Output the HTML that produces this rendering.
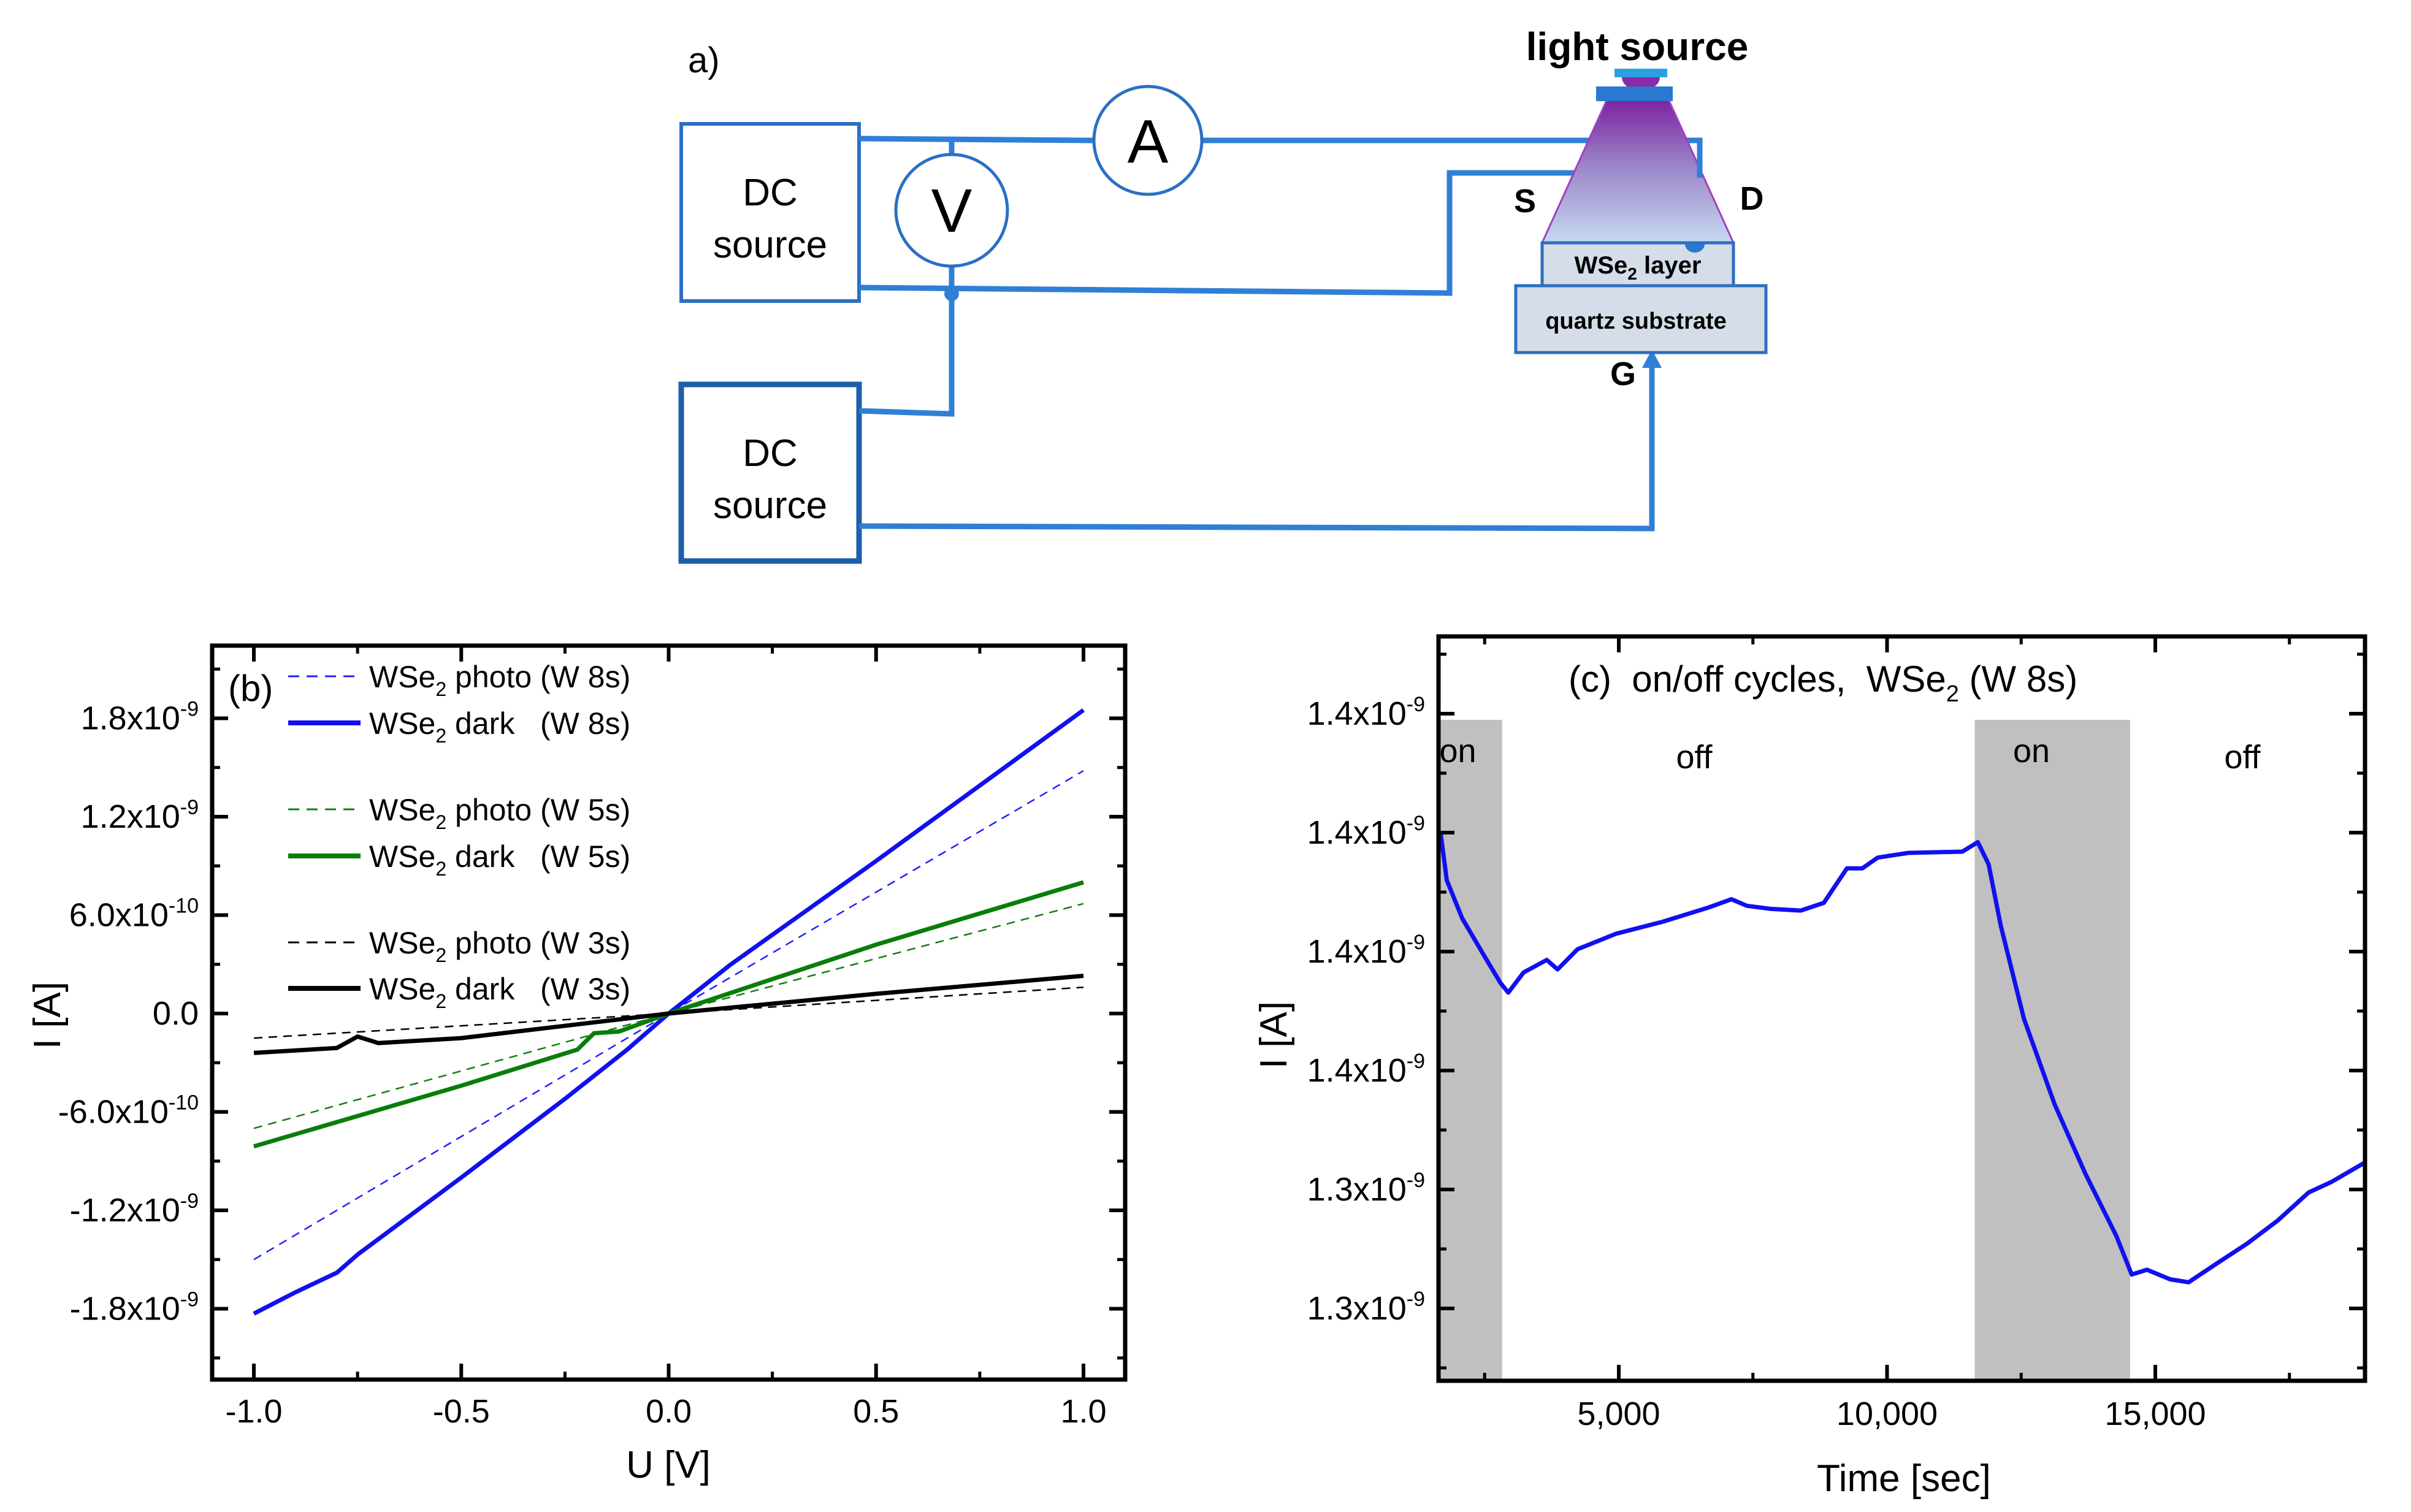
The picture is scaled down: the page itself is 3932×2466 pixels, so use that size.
<!DOCTYPE html>
<html><head><meta charset="utf-8"><style>
html,body{margin:0;padding:0;background:#fff;}
svg{display:block;}
.t{font-family:"Liberation Sans Narrow","Liberation Sans",sans-serif;fill:#000;}
.d{font-family:"Liberation Sans",sans-serif;fill:#000;}
</style></head><body>
<svg id="fig" width="3932" height="2466" viewBox="0 0 3932 2466" xmlns="http://www.w3.org/2000/svg">
<defs>
<linearGradient id="beam" x1="0" y1="0" x2="0" y2="1">
<stop offset="0" stop-color="#7b22a0"/><stop offset="0.45" stop-color="#9a82c8"/><stop offset="1" stop-color="#c6daf0"/>
</linearGradient>
</defs>
<g stroke="#2f7fd6" fill="none" stroke-width="9">
<text class="d" x="1122" y="118" font-size="58" stroke="none">a)</text>
<rect x="1111" y="202" width="290" height="289" stroke="#2b6fc2" stroke-width="6" fill="#fff"/>
<text class="d" x="1256" y="335" font-size="62" text-anchor="middle" stroke="none">DC</text>
<text class="d" x="1256" y="420" font-size="62" text-anchor="middle" stroke="none">source</text>
<rect x="1111" y="627" width="290" height="288" stroke="#1d5fa8" stroke-width="9" fill="#fff"/>
<text class="d" x="1256" y="760" font-size="62" text-anchor="middle" stroke="none">DC</text>
<text class="d" x="1256" y="845" font-size="62" text-anchor="middle" stroke="none">source</text>
<path d="M1401 226 L1782 229 M1962 229 L2772 229 L2772 396"/>
<path d="M1401 469 L2364 478 L2364 282 L2570 282"/>
<path d="M1552 226 L1552 252 M1552 434 L1552 675 L1401 670"/>
<circle cx="1552" cy="479" r="12" fill="#2f7fd6" stroke="none"/>
<path d="M1401 858 L2694 862 L2694 590"/>
<path d="M2678 600 L2694 570 L2710 600 Z" fill="#2f7fd6" stroke="none"/>
<circle cx="1552" cy="343" r="91" stroke="#2b6fc2" stroke-width="5" fill="#fff"/>
<text class="d" x="1552" y="378" font-size="100" text-anchor="middle" stroke="none">V</text>
<circle cx="1872" cy="229" r="88" stroke="#2b6fc2" stroke-width="5" fill="#fff"/>
<text class="d" x="1872" y="265" font-size="100" text-anchor="middle" stroke="none">A</text>
<rect x="2633" y="112" width="86" height="14" fill="#2aa0e0" stroke="none"/>
<path d="M2645 126 A31 22 0 0 0 2707 126 Z" fill="#8a2aa8" stroke="none"/>
<path d="M2621 162 L2721 162 L2827 396 L2515 396 Z" fill="url(#beam)" stroke="#a040c0" stroke-width="3"/>
<path d="M2772 229 L2772 290" stroke="#2f7fd6" stroke-width="9"/>
<rect x="2603" y="141" width="125" height="24" fill="#2a78d0" stroke="none"/>
<rect x="2515" y="396" width="312" height="70" fill="#d5dde8" stroke="#2b6fc2" stroke-width="5"/>
<path d="M2748 398 A16 14 0 0 0 2780 398 Z" fill="#2a78d0" stroke="none"/>
<text class="d" x="2671" y="446" font-size="40" font-weight="bold" text-anchor="middle" stroke="none">WSe<tspan font-size="28" dy="10">2</tspan><tspan dy="-10"> layer</tspan></text>
<rect x="2472" y="466" width="408" height="109" fill="#d5dde8" stroke="#2b6fc2" stroke-width="5"/>
<text class="d" x="2668" y="536" font-size="38" font-weight="bold" text-anchor="middle" stroke="none">quartz substrate</text>
<text class="d" x="2670" y="98" font-size="64" font-weight="bold" text-anchor="middle" stroke="none">light source</text>
<text class="d" x="2487" y="346" font-size="54" font-weight="bold" text-anchor="middle" stroke="none">S</text>
<text class="d" x="2857" y="342" font-size="54" font-weight="bold" text-anchor="middle" stroke="none">D</text>
<text class="d" x="2647" y="628" font-size="54" font-weight="bold" text-anchor="middle" stroke="none">G</text>
</g>
<g id="pb"></g>
<g id="pc"></g>
</svg>
<script>
// ---- Panel b data ----
const bXTicks = [-1.0, -0.5, 0.0, 0.5, 1.0];
const bXTickLabels = ["-1.0", "-0.5", "0.0", "0.5", "1.0"];
const bYTicks = [-1.8, -1.2, -0.6, 0, 0.6, 1.2, 1.8];
const bYTickMant = ["-1.8x10", "-1.2x10", "-6.0x10", "0.0", "6.0x10", "1.2x10", "1.8x10"];
const bYTickExp = ["-9", "-9", "-10", "", "-10", "-9", "-9"];
const blueDarkX = [-1, -0.9, -0.8, -0.75, -0.5, -0.25, -0.1, 0, 0.15, 0.5, 1];
const blueDarkY = [-1.83, -1.70, -1.58, -1.47, -1.0, -0.52, -0.22, 0, 0.30, 0.93, 1.85];
const bluePhotoX = [-1, 0, 1];
const bluePhotoY = [-1.50, 0, 1.48];
const greenDarkX = [-1, -0.5, -0.22, -0.18, -0.12, 0, 0.5, 1];
const greenDarkY = [-0.81, -0.44, -0.22, -0.12, -0.11, 0, 0.42, 0.80];
const greenPhotoX = [-1, 0, 1];
const greenPhotoY = [-0.70, 0, 0.67];
const blackDarkX = [-1, -0.8, -0.75, -0.7, -0.5, 0, 0.5, 1];
const blackDarkY = [-0.24, -0.21, -0.14, -0.18, -0.15, 0, 0.12, 0.23];
const blackPhotoX = [-1, 0, 1];
const blackPhotoY = [-0.15, 0, 0.16];
// ---- Panel c data ----
const cXTicks = [5000, 10000, 15000];
const cXTickLabels = ["5,000", "10,000", "15,000"];
const cYTicks = [1.40, 1.38, 1.36, 1.34, 1.32, 1.30];
const cYTickMant = ["1.4x10", "1.4x10", "1.4x10", "1.4x10", "1.3x10", "1.3x10"];
const onPeriods = [[1640, 2826], [11634, 14531]];
const periodLabels = ["on", "off", "on", "off"];
const periodLabelT = [2000, 6406, 12692, 16623];
const cTime = [1679,1794,2081,2511,2798,2941,3228,3658,3859,4232,4949,5810,6670,7101,7388,7818,8392,8822,9252,9539,9826,10400,11404,11691,11892,12121,12552,13125,13699,14273,14560,14846,15277,15621,16137,16711,17285,17858,18289,18900];
const cCurrent = [1.380,1.372,1.3656,1.359,1.3547,1.3531,1.3565,1.3586,1.357,1.3604,1.363,1.365,1.3674,1.3688,1.3677,1.3672,1.3669,1.3682,1.374,1.374,1.3758,1.3766,1.3768,1.3784,1.3747,1.3643,1.3487,1.3343,1.3226,1.3122,1.3057,1.3065,1.3049,1.3044,1.3075,1.3109,1.3148,1.3195,1.3213,1.3245];

const NS = "http://www.w3.org/2000/svg";
function mk(parent, tag, attrs) {
  const e = document.createElementNS(NS, tag);
  for (const k in attrs) e.setAttribute(k, attrs[k]);
  parent.appendChild(e);
  return e;
}
const pb = document.getElementById('pb');
const bL = 346, bR = 1835, bT = 1053, bB = 2250;
const bx = v => 1090.5 + v * 676.5;
const by = v => 1653 - v * 267.5;
function poly(parent, xs, ys, fx, fy, color, w, dash, name) {
  const pts = xs.map((x, i) => fx(x).toFixed(1) + "," + fy(ys[i]).toFixed(1)).join(" ");
  const p = mk(parent, 'polyline', {points: pts, fill: 'none', stroke: color, 'stroke-width': w, 'stroke-linejoin': 'round'});
  if (dash) p.setAttribute('stroke-dasharray', dash);
  
  
  return p;
}
poly(pb, bluePhotoX, bluePhotoY, bx, by, '#2020ff', 2.5, '14,10', 'blue-photo-line');
poly(pb, greenPhotoX, greenPhotoY, bx, by, '#108010', 2.5, '14,10', 'green-photo-line');
poly(pb, blackPhotoX, blackPhotoY, bx, by, '#000', 2.5, '14,10', 'black-photo-line');
poly(pb, blueDarkX, blueDarkY, bx, by, '#1010f0', 7, '', 'blue-dark-line');
poly(pb, greenDarkX, greenDarkY, bx, by, '#0a7d0a', 7, '', 'green-dark-line');
poly(pb, blackDarkX, blackDarkY, bx, by, '#000', 7, '', 'black-dark-line');
const bFrame = mk(pb, 'rect', {x: bL, y: bT, width: bR - bL, height: bB - bT, fill: 'none', stroke: '#000', 'stroke-width': 7});


bXTicks.forEach((v, i) => {
  const x = bx(v);
  mk(pb, 'line', {x1: x, y1: bB, x2: x, y2: bB - 26, stroke: '#000', 'stroke-width': 6});
  mk(pb, 'line', {x1: x, y1: bT, x2: x, y2: bT + 26, stroke: '#000', 'stroke-width': 6});
  if (i < bXTicks.length - 1) {
    const xm = bx(v + 0.25);
    mk(pb, 'line', {x1: xm, y1: bB, x2: xm, y2: bB - 13, stroke: '#000', 'stroke-width': 5});
    mk(pb, 'line', {x1: xm, y1: bT, x2: xm, y2: bT + 13, stroke: '#000', 'stroke-width': 5});
  }
  const t = mk(pb, 'text', {x: x, y: bB + 70, 'font-size': 54, 'text-anchor': 'middle', class: 't'});
  t.textContent = bXTickLabels[i];
  
  
});
bYTicks.forEach((v, i) => {
  const y = by(v);
  mk(pb, 'line', {x1: bL, y1: y, x2: bL + 26, y2: y, stroke: '#000', 'stroke-width': 6});
  mk(pb, 'line', {x1: bR, y1: y, x2: bR - 26, y2: y, stroke: '#000', 'stroke-width': 6});
  const ym = by(v + 0.3);
  mk(pb, 'line', {x1: bL, y1: ym, x2: bL + 13, y2: ym, stroke: '#000', 'stroke-width': 5});
  mk(pb, 'line', {x1: bR, y1: ym, x2: bR - 13, y2: ym, stroke: '#000', 'stroke-width': 5});
  const t = mk(pb, 'text', {x: bL - 22, y: y + 18, 'font-size': 54, 'text-anchor': 'end', class: 't'});
  
  
  if (bYTickExp[i]) {
    const a = mk(t, 'tspan', {}); a.textContent = bYTickMant[i];
    const b = mk(t, 'tspan', {dy: -22, 'font-size': 34}); b.textContent = bYTickExp[i];
  } else t.textContent = bYTickMant[i];
});
{
  const ym = by(-2.1);
  mk(pb, 'line', {x1: bL, y1: ym, x2: bL + 13, y2: ym, stroke: '#000', 'stroke-width': 5});
  mk(pb, 'line', {x1: bR, y1: ym, x2: bR - 13, y2: ym, stroke: '#000', 'stroke-width': 5});
  const xt = mk(pb, 'text', {x: 1090, y: 2410, 'font-size': 62, 'text-anchor': 'middle', class: 't'});
  xt.textContent = 'U [V]';
  
  
  const yt = mk(pb, 'text', {x: 0, y: 0, 'font-size': 62, 'text-anchor': 'middle', class: 't', transform: 'translate(98,1656) rotate(-90)'});
  yt.textContent = 'I [A]';
  
  
  const pl = mk(pb, 'text', {x: 372, y: 1143, 'font-size': 60, class: 't'});
  pl.textContent = '(b)';
  
  
}
const legY = [1103, 1179, 1320, 1396, 1537, 1612];
const legColor = ['#2020ff', '#1010f0', '#108010', '#0a7d0a', '#000', '#000'];
const legDash = [true, false, true, false, true, false];
const legKind = ['photo (W 8s)', 'dark   (W 8s)', 'photo (W 5s)', 'dark   (W 5s)', 'photo (W 3s)', 'dark   (W 3s)'];
legY.forEach((y, i) => {
  const g = mk(pb, 'g', {});
  
  
  const l = mk(g, 'line', {x1: 470, y1: y, x2: 588, y2: y, stroke: legColor[i], 'stroke-width': legDash[i] ? 3 : 8});
  if (legDash[i]) l.setAttribute('stroke-dasharray', '18,12');
  const t = mk(g, 'text', {x: 602, y: y + 18, 'font-size': 50, class: 't'});
  const a = mk(t, 'tspan', {}); a.textContent = 'WSe';
  const b = mk(t, 'tspan', {dy: 14, 'font-size': 32}); b.textContent = '2';
  const c = mk(t, 'tspan', {dy: -14}); c.textContent = ' ' + legKind[i];
  t.style.whiteSpace = 'pre';
});
// Panel c
const pc = document.getElementById('pc');
const cL = 2346, cR = 3857, cT = 1038, cB = 2252;
const cx = v => 2640 + (v - 5000) / 5000 * 437.5;
const cy = v => 1164 + (1.40 - v) / 0.02 * 194;
onPeriods.forEach(p => {
  const r = mk(pc, 'rect', {x: cx(p[0]), y: 1174, width: cx(p[1]) - cx(p[0]), height: cB - 1174, fill: '#c0c0c0'});
  
  
});
periodLabels.forEach((s, i) => {
  const t = mk(pc, 'text', {x: cx(periodLabelT[i]), y: 1243 + (i % 2 === 1 ? 10 : 0), 'font-size': 54, 'text-anchor': 'middle', class: 't'});
  t.textContent = s;
  
  
});
poly(pc, cTime, cCurrent, cx, cy, '#1010f0', 7, '', 'current-trace');
const cFrame = mk(pc, 'rect', {x: cL, y: cT, width: cR - cL, height: cB - cT, fill: 'none', stroke: '#000', 'stroke-width': 7});


cXTicks.forEach((v, i) => {
  const x = cx(v);
  mk(pc, 'line', {x1: x, y1: cB, x2: x, y2: cB - 26, stroke: '#000', 'stroke-width': 6});
  mk(pc, 'line', {x1: x, y1: cT, x2: x, y2: cT + 26, stroke: '#000', 'stroke-width': 6});
  const t = mk(pc, 'text', {x: x, y: cB + 72, 'font-size': 54, 'text-anchor': 'middle', class: 't'});
  t.textContent = cXTickLabels[i];
  
  
});
[2500, 7500, 12500, 17500].forEach(v => {
  const x = cx(v);
  mk(pc, 'line', {x1: x, y1: cB, x2: x, y2: cB - 13, stroke: '#000', 'stroke-width': 5});
  mk(pc, 'line', {x1: x, y1: cT, x2: x, y2: cT + 13, stroke: '#000', 'stroke-width': 5});
});
cYTicks.forEach((v, i) => {
  const y = cy(v);
  mk(pc, 'line', {x1: cL, y1: y, x2: cL + 26, y2: y, stroke: '#000', 'stroke-width': 6});
  mk(pc, 'line', {x1: cR, y1: y, x2: cR - 26, y2: y, stroke: '#000', 'stroke-width': 6});
  const ym = cy(v + 0.01);
  mk(pc, 'line', {x1: cL, y1: ym, x2: cL + 13, y2: ym, stroke: '#000', 'stroke-width': 5});
  mk(pc, 'line', {x1: cR, y1: ym, x2: cR - 13, y2: ym, stroke: '#000', 'stroke-width': 5});
  const t = mk(pc, 'text', {x: cL - 22, y: y + 18, 'font-size': 54, 'text-anchor': 'end', class: 't'});
  
  
  const a = mk(t, 'tspan', {}); a.textContent = cYTickMant[i];
  const b = mk(t, 'tspan', {dy: -22, 'font-size': 34}); b.textContent = '-9';
});
{
  const ym = cy(1.29);
  mk(pc, 'line', {x1: cL, y1: ym, x2: cL + 13, y2: ym, stroke: '#000', 'stroke-width': 5});
  mk(pc, 'line', {x1: cR, y1: ym, x2: cR - 13, y2: ym, stroke: '#000', 'stroke-width': 5});
  const xt = mk(pc, 'text', {x: 3105, y: 2432, 'font-size': 62, 'text-anchor': 'middle', class: 't'});
  xt.textContent = 'Time [sec]';
  
  
  const yt = mk(pc, 'text', {x: 0, y: 0, 'font-size': 62, 'text-anchor': 'middle', class: 't', transform: 'translate(2098,1688) rotate(-90)'});
  yt.textContent = 'I [A]';
  
  
  const tt = mk(pc, 'text', {x: 2558, y: 1128, 'font-size': 60, class: 't'});
  
  
  const a = mk(tt, 'tspan', {}); a.textContent = '(c)  on/off cycles,  WSe';
  const b = mk(tt, 'tspan', {dy: 16, 'font-size': 38}); b.textContent = '2';
  const c = mk(tt, 'tspan', {dy: -16}); c.textContent = ' (W 8s)';
  tt.style.whiteSpace = 'pre';
}
</script>
</body></html>
